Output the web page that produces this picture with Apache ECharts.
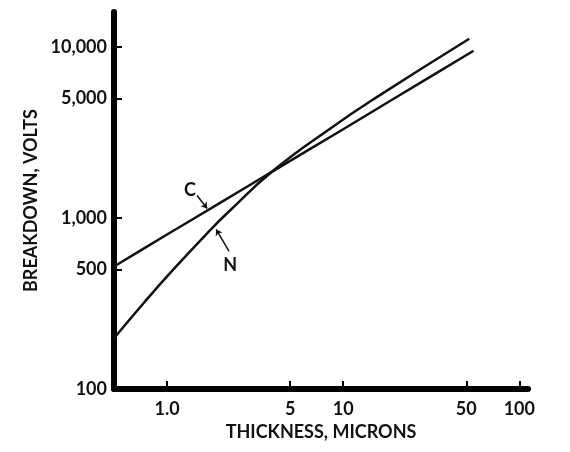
<!DOCTYPE html>
<html lang="en">
<head>
    <meta charset="utf-8">
    <title>Breakdown vs thickness</title>
    <script src="https://cdn.jsdelivr.net/npm/echarts@6.0.0/dist/echarts.min.js"></script>
    <style>
        html, body { margin: 0; padding: 0; background: #fff; }
        #main { width: 570px; height: 452px; }
    </style>
</head>
<body>
    <div id="main"></div>
<script>
    // thickness (microns) / breakdown (volts)
    var cThickness = [0.5, 1, 2, 4, 10, 20, 55];
    var cVolts = [520, 800, 1225, 1880, 3300, 5080, 9500];

    var nThickness = [0.5, 0.75, 1.1, 1.75, 2.2, 4, 8.5, 16, 52];
    var nVolts = [198, 325, 507, 845, 1069, 1888, 3350, 5190, 11170];

    // tick marks
    var xTicks = [1, 5, 10, 50, 100];
    var yTicks = [100, 500, 1000, 5000, 10000];

    // curve labels: [text, labelX, labelY, arrowFromX, arrowFromY, arrowToX, arrowToY]
    var notes = [
        ['C', 1.35, 1445, 1.48, 1352, 1.69, 1135],
        ['N', 2.28, 529, 2.25, 638, 1.90, 857]
    ];

    var FONT = 'Lato';
    var FS = 18;

    function pairs(xs, ys) {
        var out = [];
        for (var i = 0; i < xs.length; i++) out.push([xs[i], ys[i]]);
        return out;
    }

    function fmtY(v) {
        var n = Math.round(v);
        return n.toString().replace(/\B(?=(\d{3})+(?!\d))/g, ',');
    }

    function fmtX(v) {
        var n = Math.round(v * 10) / 10;
        return n === 1 ? '1.0' : String(n);
    }

    var myChart = echarts.init(document.getElementById('main'));

    var noteLabels = notes.map(function (n) {
        return { coord: [n[1], n[2]], value: n[0] };
    });
    var noteArrows = notes.map(function (n) {
        return [{ coord: [n[3], n[4]] }, { coord: [n[5], n[6]] }];
    });

    var txt = { fontFamily: FONT, fontWeight: 'bold', fontSize: FS, color: '#111' };

    var option = {
        animation: false,
        textStyle: { fontFamily: FONT },
        grid: { left: 114, right: 42, top: 12, bottom: 63 },
        xAxis: {
            type: 'log',
            logBase: 10,
            min: 0.5,
            max: 112,
            name: 'THICKNESS, MICRONS',
            nameLocation: 'middle',
            nameGap: 28,
            nameTextStyle: txt,
            axisLine: { show: true, lineStyle: { color: '#000', width: 6 } },
            axisTick: { show: true, inside: true, length: 8, customValues: xTicks, lineStyle: { color: '#000', width: 2 } },
            axisLabel: Object.assign({ customValues: xTicks, margin: 11, formatter: fmtX }, txt),
            splitLine: { show: false },
            minorTick: { show: false }
        },
        yAxis: {
            type: 'log',
            logBase: 10,
            min: 100,
            max: 16000,
            name: 'BREAKDOWN, VOLTS',
            nameLocation: 'middle',
            nameGap: 71,
            nameRotate: 90,
            nameTextStyle: txt,
            axisLine: { show: true, lineStyle: { color: '#000', width: 6 } },
            axisTick: { show: true, inside: true, length: 8, customValues: yTicks, lineStyle: { color: '#000', width: 2 } },
            axisLabel: Object.assign({ customValues: yTicks, margin: 7, formatter: fmtY }, txt),
            splitLine: { show: false },
            minorTick: { show: false }
        },
        series: [{
            name: 'C',
            type: 'line',
            data: pairs(cThickness, cVolts),
            smooth: 0.3,
            symbol: 'none',
            lineStyle: { color: '#111', width: 2.5 },
            markPoint: {
                symbol: 'circle',
                symbolSize: 0,
                label: Object.assign({ show: true, formatter: '{c}' }, txt),
                data: noteLabels
            },
            markLine: {
                silent: true,
                symbol: ['none', 'arrow'],
                symbolSize: 6,
                label: { show: false },
                lineStyle: { color: '#111', width: 1.5, type: 'solid' },
                data: noteArrows
            }
        }, {
            name: 'N',
            type: 'line',
            data: pairs(nThickness, nVolts),
            smooth: true,
            symbol: 'none',
            lineStyle: { color: '#111', width: 2.5 }
        }]
    };
    myChart.setOption(option);
</script>
</body>
</html>
